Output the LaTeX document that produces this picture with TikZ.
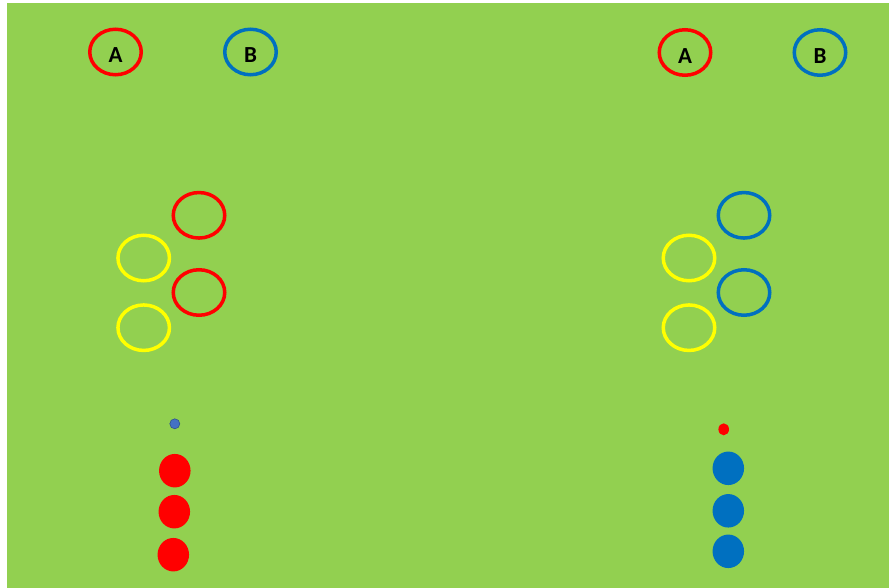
\documentclass[tikz,border=0pt]{standalone}
\usepackage{fontspec}
\setmainfont{Carlito}
\usetikzlibrary{shapes.geometric}
\definecolor{field}{HTML}{92D050}
\definecolor{tred}{HTML}{FF0000}
\definecolor{tblue}{HTML}{0070C0}
\definecolor{tyellow}{HTML}{FFFF00}
\definecolor{dotblue}{HTML}{4472C4}
\definecolor{dotblueedge}{HTML}{2F528F}
\newcommand{\ringtxt}[1]{\raisebox{-11pt}[0pt][0pt]{#1}}
\tikzset{
  ring/.style={ellipse, draw=#1, line width=3.5pt, minimum width=51.5pt, minimum height=45.5pt, inner sep=0pt},
  labelring/.style={ring=#1, font=\bfseries\fontsize{23}{23}\selectfont, text=black},
  player/.style={ellipse, fill=#1, draw=none, minimum width=31.5pt, minimum height=33.5pt, inner sep=0pt},
  smalldot/.style={ellipse, inner sep=0pt}
}
\begin{document}
\begin{tikzpicture}[x=1pt,y=-1pt]
\useasboundingbox (0,0) rectangle (889,588);
\fill[white] (0,0) rectangle (889,588);
\fill[field] (7,3) rectangle (889,588);
% top labels
\node[labelring=tred] (A1) at (115.5,52) {\ringtxt{A}};
\node[labelring=tblue] (B1) at (250.5,52) {\ringtxt{B}};
\node[labelring=tred] (A2) at (685,52.5) {\ringtxt{A}};
\node[labelring=tblue] (B2) at (820,52.5) {\ringtxt{B}};
% left group
\node[ring=tred] (lr1) at (199,215.3) {};
\node[ring=tyellow] (ly1) at (143.7,258) {};
\node[ring=tred] (lr2) at (199,292.5) {};
\node[ring=tyellow] (ly2) at (143.7,327.7) {};
% right group
\node[ring=tblue] (rb1) at (744,215.3) {};
\node[ring=tyellow] (ry1) at (689,258) {};
\node[ring=tblue] (rb2) at (744,292.5) {};
\node[ring=tyellow] (ry2) at (689,327.7) {};
% left bottom
\node[smalldot, fill=dotblue, draw=dotblueedge, line width=0.6pt, minimum width=10pt, minimum height=10pt] (lball) at (174.8,423.8) {};
\node[player=tred] (lp1) at (174.8,470.7) {};
\node[player=tred] (lp2) at (174.3,511.7) {};
\node[player=tred] (lp3) at (173.3,554.7) {};
% right bottom
\node[smalldot, fill=tred, minimum width=10.6pt, minimum height=12pt] (rball) at (723.7,429.3) {};
\node[player=tblue] (rp1) at (728.3,468.3) {};
\node[player=tblue] (rp2) at (728.3,510.8) {};
\node[player=tblue] (rp3) at (728.3,551.3) {};
\end{tikzpicture}
\end{document}
